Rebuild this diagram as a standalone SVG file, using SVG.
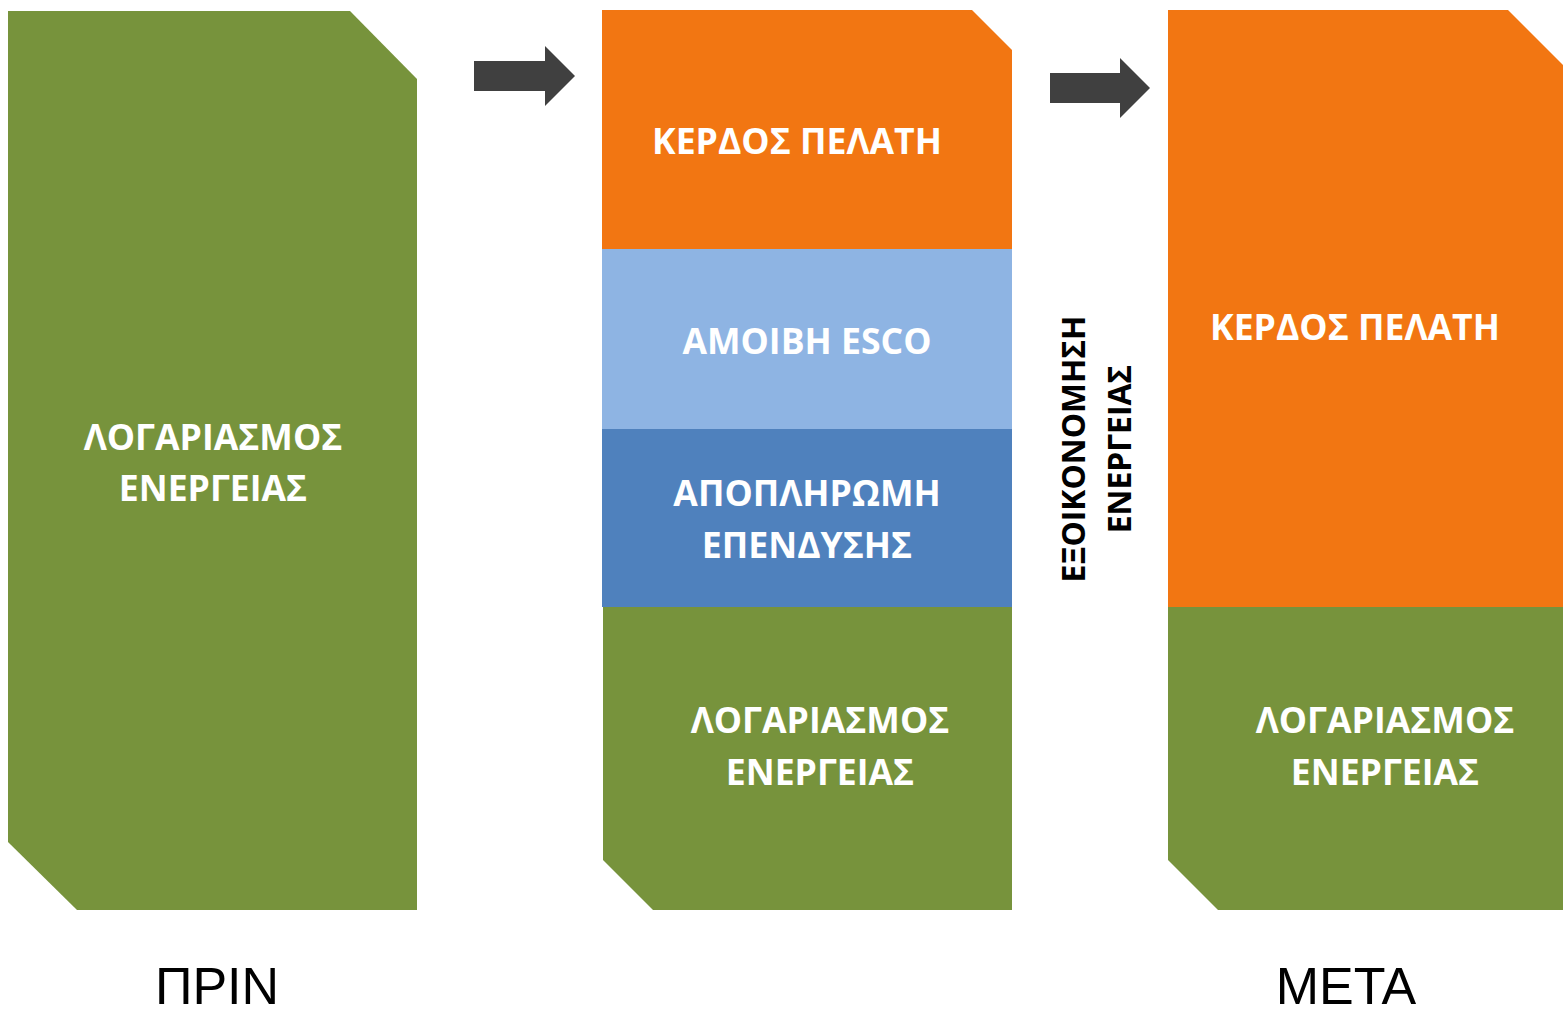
<svg xmlns="http://www.w3.org/2000/svg" width="1563" height="1009" viewBox="0 0 1563 1009">
<style>
.g{fill:#77933C}.o{fill:#F27612}.lb{fill:#8EB4E3}.b{fill:#4F81BD}
.t{font-family:"Open Sans",sans-serif;font-weight:bold;font-size:35.6px;fill:#fff;text-anchor:middle}
.v{font-family:"Open Sans",sans-serif;font-weight:bold;font-size:31.8px;fill:#000;text-anchor:middle}
.l{font-family:"Liberation Sans",Arial,sans-serif;font-size:52px;fill:#000;text-anchor:middle}
.ar{fill:#404040}
</style>
<rect width="1563" height="1009" fill="#fff"/>
<g id="before">
<polygon class="g" points="8,11 350,11 417,79 417,910 77,910 8,842"/>
<text class="t" x="213" y="450">ΛΟΓΑΡΙΑΣΜΟΣ</text>
<text class="t" x="213" y="501">ΕΝΕΡΓΕΙΑΣ</text>
</g>
<g id="middle">
<polygon class="o" points="602,10 972,10 1012,50 1012,249 602,249"/>
<rect class="lb" x="602" y="249" width="410" height="180"/>
<rect class="b" x="602" y="429" width="410" height="178"/>
<polygon class="g" points="603,607 1012,607 1012,910 653,910 603,860"/>
<text class="t" x="797" y="154">ΚΕΡΔΟΣ ΠΕΛΑΤΗ</text>
<text class="t" x="807" y="354">ΑΜΟΙΒΗ ESCO</text>
<text class="t" x="807" y="506">ΑΠΟΠΛΗΡΩΜΗ</text>
<text class="t" x="807" y="558">ΕΠΕΝΔΥΣΗΣ</text>
<text class="t" x="820" y="733">ΛΟΓΑΡΙΑΣΜΟΣ</text>
<text class="t" x="820" y="785">ΕΝΕΡΓΕΙΑΣ</text>
</g>
<g id="after">
<polygon class="o" points="1168,10 1508,10 1563,65 1563,607 1168,607"/>
<polygon class="g" points="1168,607 1563,607 1563,910 1218,910 1168,860"/>
<text class="t" x="1355" y="340">ΚΕΡΔΟΣ ΠΕΛΑΤΗ</text>
<text class="t" x="1385" y="733">ΛΟΓΑΡΙΑΣΜΟΣ</text>
<text class="t" x="1385" y="785">ΕΝΕΡΓΕΙΑΣ</text>
</g>
<g id="savings">
<text class="v" transform="translate(1085,449) rotate(-90)">ΕΞΟΙΚΟΝΟΜΗΣΗ</text>
<text class="v" transform="translate(1131,449) rotate(-90)">ΕΝΕΡΓΕΙΑΣ</text>
</g>
<g id="connectors">
<polygon class="ar" points="474,61 545,61 545,46 575,76 545,106 545,91 474,91"/>
<polygon class="ar" points="1050,73 1120,73 1120,58 1150,88 1120,118 1120,103 1050,103"/>
</g>
<g id="labels">
<text class="l" x="217" y="1004">ΠΡΙΝ</text>
<text class="l" x="1346" y="1004">ΜΕΤΑ</text>
</g>
</svg>
